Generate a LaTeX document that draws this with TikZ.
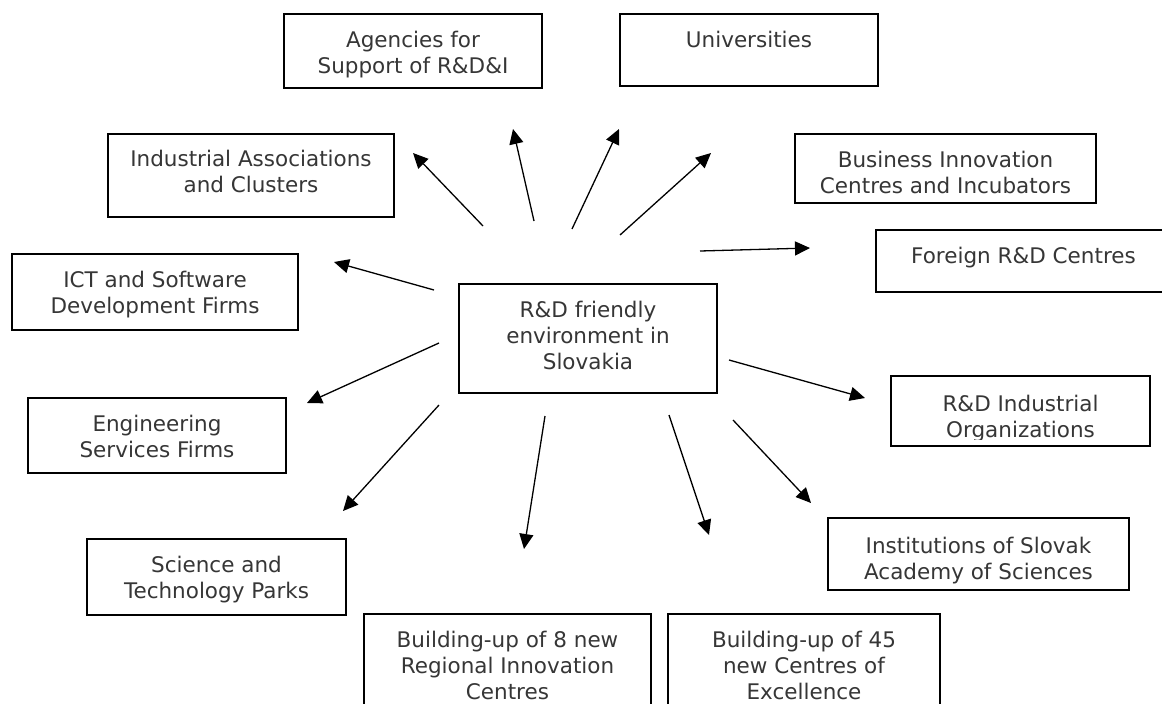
\documentclass[tikz,border=0pt]{standalone}
\usepackage{fontspec}
\setmainfont{DejaVu Sans}
\usetikzlibrary{arrows.meta}
\definecolor{txtgray}{HTML}{363636}
\newcommand{\mlines}[1]{\begin{tabular}[t]{@{}c@{}}#1\end{tabular}}
\begin{document}
\begin{tikzpicture}[x=1pt,y=-1pt,
  box/.style={draw=black, line width=1.3pt, inner sep=0pt, rectangle},
  txt/.style={inner sep=0pt, anchor=base, text=txtgray, font=\fontsize{21.5}{26}\selectfont},
  arr/.style={draw=black, line width=1.3pt, -{Triangle[length=15pt,width=14pt]}}]
\clip (0,0) rectangle (1162,704);
\fill[white] (0,0) rectangle (1162,704);

% boxes
\node[box, minimum width=258pt, minimum height=74pt]  (agen) at (413,51) {};
\node[box, minimum width=258pt, minimum height=72pt]  (univ) at (749,50) {};
\node[box, minimum width=286pt, minimum height=83pt]  (indu) at (251,175.5) {};
\node[box, minimum width=301pt, minimum height=69pt]  (busi) at (945.5,168.5) {};
\node[box, minimum width=295pt, minimum height=62pt]  (forg) at (1023.5,261) {};
\node[box, minimum width=286pt, minimum height=76pt]  (ict)  at (155,292) {};
\node[box, minimum width=258pt, minimum height=109pt] (cent) at (588,338.5) {};
\node[box, minimum width=259pt, minimum height=70pt]  (rdin) at (1020.5,411) {};
\node[box, minimum width=258pt, minimum height=75pt]  (engi) at (157,435.5) {};
\node[box, minimum width=301pt, minimum height=72pt]  (inst) at (978.5,554) {};
\node[box, minimum width=259pt, minimum height=76pt]  (scie) at (216.5,577) {};
\node[box, minimum width=287pt, minimum height=106pt] (regi) at (507.5,667) {};
\node[box, minimum width=272pt, minimum height=106pt] (exce) at (804,667) {};

% texts
\node[txt] (tagen) at (413,47)    {\mlines{Agencies for\\Support of R\&D\&I}};
\node[txt] (tuniv) at (749,47)    {\mlines{Universities}};
\node[txt] (tindu) at (251,166)   {\mlines{Industrial Associations\\and Clusters}};
\node[txt] (tbusi) at (945.5,167) {\mlines{Business Innovation\\Centres and Incubators}};
\node[txt] (tforg) at (1023.5,263){\mlines{Foreign R\&D Centres}};
\node[txt] (tict)  at (155,287)   {\mlines{ICT and Software\\Development Firms}};
\node[txt] (tcent) at (588,317)   {\mlines{R\&D friendly\\environment in\\Slovakia}};
\begin{scope}
\clip (891,376) rectangle (1150,439);
\node[txt] (trdin) at (1020.5,411) {\mlines{R\&D Industrial\\Organizations}};
\end{scope}
\node[txt] (tengi) at (157,431)   {\mlines{Engineering\\Services Firms}};
\node[txt] (tinst) at (978.5,553) {\mlines{Institutions of Slovak\\Academy of Sciences}};
\node[txt] (tscie) at (216.5,572) {\mlines{Science and\\Technology Parks}};
\node[txt] (tregi) at (507.5,647) {\mlines{Building-up of 8 new\\Regional Innovation\\Centres}};
\node[txt] (texce) at (804,647)   {\mlines{Building-up of 45\\new Centres of\\Excellence}};

% arrow end points
\coordinate (s1) at (483,226);  \coordinate (e1) at (413,153);
\coordinate (s2) at (534,221);  \coordinate (e2) at (513,129);
\coordinate (s3) at (572,229);  \coordinate (e3) at (619,129);
\coordinate (s4) at (620,235);  \coordinate (e4) at (711,153);
\coordinate (s5) at (700,251);  \coordinate (e5) at (810,248);
\coordinate (s6) at (434,290);  \coordinate (e6) at (334,262);
\coordinate (s7) at (439,343);  \coordinate (e7) at (307,403);
\coordinate (s8) at (439,405);  \coordinate (e8) at (343,511);
\coordinate (s9) at (545,416);  \coordinate (e9) at (524,549);
\coordinate (s10) at (669,415); \coordinate (e10) at (709,535);
\coordinate (s11) at (733,420); \coordinate (e11) at (811,503);
\coordinate (s12) at (729,360); \coordinate (e12) at (865,398);

\foreach \i in {1,...,12} {\draw[arr] (s\i) -- (e\i);}
\end{tikzpicture}
\end{document}
